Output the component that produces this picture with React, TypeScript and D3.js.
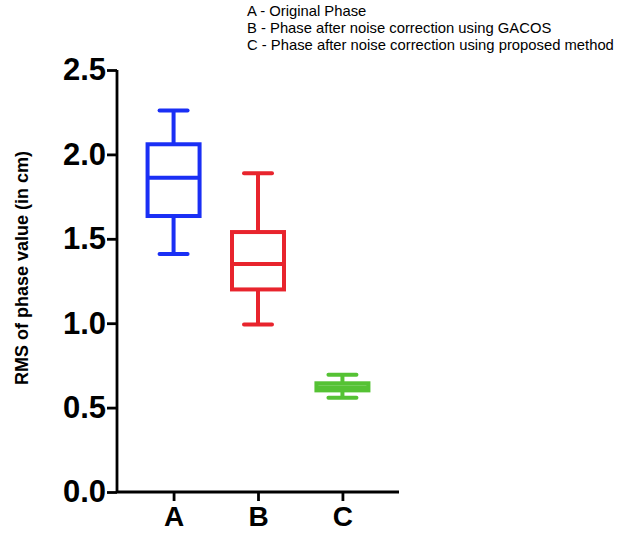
import { useEffect, useRef } from 'react';
import * as d3 from 'd3';

const categories = ['A', 'B', 'C'];
const colors = ['#1a2ff5', '#e8242d', '#55c234'];
// [min, q1, median, q3, max] for each group
const whiskerLow = [1.41, 0.993, 0.559];
const quartile1 = [1.635, 1.2, 0.602];
const medians = [1.862, 1.35, 0.62];
const quartile3 = [2.06, 1.54, 0.644];
const whiskerHigh = [2.26, 1.888, 0.695];
const yTicks = [0, 0.5, 1.0, 1.5, 2.0, 2.5];
const legendLines = [
  'A - Original Phase',
  'B - Phase after noise correction using GACOS',
  'C - Phase after noise correction using proposed method',
];

const W = 617;
const H = 533;

export default function App() {
  const svgRef = useRef<SVGSVGElement>(null);

  useEffect(() => {
    if (!svgRef.current) return;
    const svg = d3.select(svgRef.current);
    svg.selectAll('*').remove();

    const font = '"Liberation Sans", Arial, Helvetica, sans-serif';
    const x0 = 117, x1 = 399, yTop = 70, yBottom = 492;

    const x = d3.scalePoint<string>().domain(categories).range([x0, x1]).padding(0.67);
    const y = d3.scaleLinear().domain([0, 2.5]).range([yBottom, yTop]);

    const boxW = 52;
    const capW = 28;

    // Y axis
    svg.append('g')
      .attr('transform', `translate(${x0},0)`)
      .call(d3.axisLeft(y).tickValues(yTicks).tickSize(10).tickPadding(1).tickFormat(d3.format('.1f')))
      .call(g => g.select('.domain').attr('d', `M0,${yTop}V${yBottom}`).attr('stroke', '#000').attr('stroke-width', 2.8))
      .call(g => g.selectAll('.tick line').attr('stroke', '#000').attr('stroke-width', 2.8))
      .call(g => g.selectAll('.tick text')
        .attr('fill', '#000')
        .attr('font-family', font)
        .attr('font-size', '31px')
        .attr('font-weight', 'bold'));

    // X axis
    svg.append('g')
      .attr('transform', `translate(0,${yBottom})`)
      .call(d3.axisBottom(x).tickSize(9).tickPadding(5))
      .call(g => g.select('.domain').attr('d', `M${x0},0H${x1}`).attr('stroke', '#000').attr('stroke-width', 2.8))
      .call(g => g.selectAll('.tick line').attr('stroke', '#000').attr('stroke-width', 2.8))
      .call(g => g.selectAll('.tick text')
        .attr('fill', '#000')
        .attr('font-family', font)
        .attr('font-size', '28px')
        .attr('font-weight', 'bold'));

    // Boxes
    const boxes = svg.append('g')
      .selectAll('g')
      .data(categories)
      .join('g')
      .attr('stroke', (_, i) => colors[i])
      .attr('stroke-width', 4)
      .attr('fill', 'none');

    // whiskers
    boxes.append('line')
      .attr('x1', d => x(d)!).attr('x2', d => x(d)!)
      .attr('y1', (_, i) => y(whiskerHigh[i])).attr('y2', (_, i) => y(quartile3[i]));
    boxes.append('line')
      .attr('x1', d => x(d)!).attr('x2', d => x(d)!)
      .attr('y1', (_, i) => y(quartile1[i])).attr('y2', (_, i) => y(whiskerLow[i]));
    // caps
    boxes.append('line')
      .attr('stroke-linecap', 'round')
      .attr('x1', d => x(d)! - capW / 2).attr('x2', d => x(d)! + capW / 2)
      .attr('y1', (_, i) => y(whiskerHigh[i])).attr('y2', (_, i) => y(whiskerHigh[i]));
    boxes.append('line')
      .attr('stroke-linecap', 'round')
      .attr('x1', d => x(d)! - capW / 2).attr('x2', d => x(d)! + capW / 2)
      .attr('y1', (_, i) => y(whiskerLow[i])).attr('y2', (_, i) => y(whiskerLow[i]));
    // box
    boxes.append('rect')
      .attr('x', d => x(d)! - boxW / 2)
      .attr('width', boxW)
      .attr('y', (_, i) => y(quartile3[i]))
      .attr('height', (_, i) => y(quartile1[i]) - y(quartile3[i]));
    // median
    boxes.append('line')
      .attr('x1', d => x(d)! - boxW / 2).attr('x2', d => x(d)! + boxW / 2)
      .attr('y1', (_, i) => y(medians[i])).attr('y2', (_, i) => y(medians[i]));

    // Y axis title
    svg.append('text')
      .attr('transform', `translate(28,${(yTop + yBottom) / 2 - 13}) rotate(-90)`)
      .attr('text-anchor', 'middle')
      .attr('font-family', font)
      .attr('font-size', '18px')
      .attr('font-weight', 'bold')
      .attr('fill', '#000')
      .text('RMS of phase value (in cm)');

    // Legend text
    svg.append('g')
      .selectAll('text')
      .data(legendLines)
      .join('text')
      .attr('x', 247)
      .attr('y', (_, i) => 15.5 + i * 17)
      .attr('font-family', font)
      .attr('font-size', '14.8px')
      .attr('fill', '#000')
      .text(d => d);
  }, []);

  return (
    <svg
      ref={svgRef}
      width={W}
      height={H}
      style={{ position: 'absolute', left: 0, top: 0, background: '#fff' }}
    />
  );
}
